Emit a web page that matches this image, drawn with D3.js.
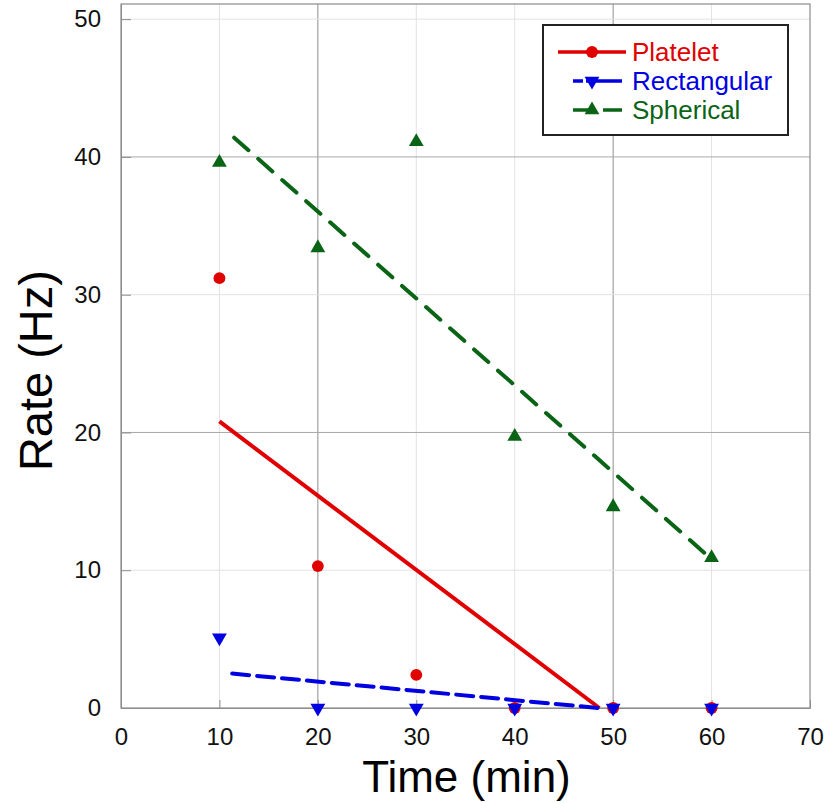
<!DOCTYPE html>
<html>
<head>
<meta charset="utf-8">
<script src="https://cdn.jsdelivr.net/npm/d3@7"></script>
<style>
  body { margin: 0; background: #fff; }
  text { font-family: Arial, "Liberation Sans", sans-serif; }
</style>
</head>
<body>
<div class="chart"></div>
<script>
// DATA ------------------------------
const times = [10, 20, 30, 40, 50, 60];
const platelet = [31.2, 10.3, 2.4, 0, 0, 0];
const rectangular = [5.1, 0, 0, 0, 0, 0];
const spherical = [39.6, 33.4, 41.1, 19.7, 14.6, 10.9];

// trend line end points [x, y]
const plateletFit = [[10, 20.8], [48.6, 0]];
const rectangularFit = [[11.3, 2.5], [48.5, 0]];
const sphericalFit = [[11.5, 41.4], [60, 10.8]];

const xTicks = [0, 10, 20, 30, 40, 50, 60, 70];
const yTicks = [0, 10, 20, 30, 40, 50];
const seriesNames = ['Platelet', 'Rectangular', 'Spherical'];

// CHART INIT ------------------------------
const margin = { top: 4, right: 17, bottom: 95, left: 121 };
const width = 827 - margin.left - margin.right;
const height = 803 - margin.top - margin.bottom;

const svg = d3
  .select('.chart')
  .append('svg')
  .attr('width', 827)
  .attr('height', 803);

const group = svg
  .append('g')
  .attr('transform', 'translate(' + margin.left + ',' + margin.top + ')');

const xScale = d3.scaleLinear().domain([0, 70]).range([0, width]);
const yScale = d3.scaleLinear().domain([0, 51.1]).range([height, 0]);

// grid lines
const darkGridX = [20, 50];
const darkGridY = [20, 40];
group
  .selectAll('.gx')
  .data(xTicks.filter((d) => d > 0 && d < 70))
  .enter()
  .append('line')
  .attr('x1', (d) => xScale(d))
  .attr('x2', (d) => xScale(d))
  .attr('y1', 0)
  .attr('y2', height)
  .attr('stroke', (d) => (darkGridX.includes(d) ? '#8f8f8f' : '#e2e2e2'))
  .attr('stroke-width', 1);

group
  .selectAll('.gy')
  .data(yTicks.filter((d) => d > 0))
  .enter()
  .append('line')
  .attr('x1', 0)
  .attr('x2', width)
  .attr('y1', (d) => yScale(d))
  .attr('y2', (d) => yScale(d))
  .attr('stroke', (d) => (darkGridY.includes(d) ? '#a8a8a8' : '#e2e2e2'))
  .attr('stroke-width', 1);

// frame
group
  .append('rect')
  .attr('x', 0)
  .attr('y', 0)
  .attr('width', width)
  .attr('height', height)
  .attr('fill', 'none')
  .attr('stroke', '#8c8c8c')
  .attr('stroke-width', 1.2);

// axes
const xAxis = d3.axisBottom(xScale).tickValues(xTicks).tickSizeInner(-8).tickSizeOuter(0).tickPadding(20);
const yAxis = d3.axisLeft(yScale).tickValues(yTicks).tickSizeInner(-10).tickSizeOuter(0).tickPadding(20);

const xAxisGroup = group
  .append('g')
  .attr('transform', 'translate(0,' + height + ')')
  .call(xAxis);
const yAxisGroup = group.append('g').call(yAxis);

[xAxisGroup, yAxisGroup].forEach((g) => {
  g.select('.domain').attr('stroke', '#8c8c8c');
  g.selectAll('.tick line').attr('stroke', '#8c8c8c');
  g.selectAll('.tick text')
    .attr('font-size', 24)
    .attr('fill', '#111')
    .style('font-family', 'Arial, "Liberation Sans", sans-serif');
});

// axis titles
group
  .append('text')
  .attr('x', xScale(35.1))
  .attr('y', height + 84)
  .attr('text-anchor', 'middle')
  .attr('font-size', 44)
  .attr('fill', '#000')
  .text('Time (min)');

group
  .append('text')
  .attr('transform', 'translate(' + -69 + ',' + (yScale(25) + 7) + ') rotate(-90)')
  .attr('text-anchor', 'middle')
  .attr('font-size', 47)
  .attr('fill', '#000')
  .text('Rate (Hz)');

// SERIES ------------------------------
const series = [
  { name: 'Platelet', values: platelet, fit: plateletFit, color: '#e00000', dash: null, symbol: d3.symbolCircle, rot: 0 },
  { name: 'Rectangular', values: rectangular, fit: rectangularFit, color: '#0000e0', dash: '17,8', symbol: d3.symbolTriangle, rot: 180 },
  { name: 'Spherical', values: spherical, fit: sphericalFit, color: '#0a6416', dash: '19,13', symbol: d3.symbolTriangle, rot: 0 },
];

const line = d3
  .line()
  .x((d) => xScale(d[0]))
  .y((d) => yScale(d[1]));

series.forEach((s) => {
  group
    .append('path')
    .datum(s.fit)
    .attr('d', line)
    .attr('fill', 'none')
    .attr('stroke', s.color)
    .attr('stroke-width', 4)
    .attr('stroke-linecap', s.dash ? 'round' : 'butt')
    .attr('stroke-dasharray', s.dash);
});

// markers, drawn on top in order platelet, rectangular, spherical
series.forEach((s) => {
  const size = s.symbol === d3.symbolCircle ? 110 : 95;
  group
    .selectAll('.pt-' + s.name)
    .data(times.map((t, i) => [t, s.values[i]]))
    .enter()
    .append('path')
    .attr('d', d3.symbol().type(s.symbol).size(size))
    .attr('transform', (d) => 'translate(' + xScale(d[0]) + ',' + yScale(d[1]) + ') rotate(' + s.rot + ')')
    .attr('fill', s.color);
});

// LEGEND ------------------------------
const legend = svg.append('g').attr('transform', 'translate(543,25)');
legend
  .append('rect')
  .attr('width', 245)
  .attr('height', 110)
  .attr('fill', '#fff')
  .attr('stroke', '#222')
  .attr('stroke-width', 2);

const legendLines = [
  { x1: 15, x2: 83, dash: null },
  { x1: 30, x2: 79, dash: '10,3,36' },
  { x1: 30, x2: 79, dash: '22,8,19' },
];

series.forEach((s, i) => {
  const yy = 27 + i * 29;
  legend
    .append('line')
    .attr('x1', legendLines[i].x1)
    .attr('x2', legendLines[i].x2)
    .attr('y1', yy)
    .attr('y2', yy)
    .attr('stroke', s.color)
    .attr('stroke-width', 3.5)
    .attr('stroke-dasharray', legendLines[i].dash);
  legend
    .append('path')
    .attr('d', d3.symbol().type(s.symbol).size(s.symbol === d3.symbolCircle ? 110 : 95))
    .attr('transform', 'translate(49,' + yy + ') rotate(' + s.rot + ')')
    .attr('fill', s.color);
  legend
    .append('text')
    .attr('x', 89)
    .attr('y', yy + 9)
    .attr('font-size', 26)
    .attr('fill', s.color)
    .text(seriesNames[i]);
});
</script>
</body>
</html>
